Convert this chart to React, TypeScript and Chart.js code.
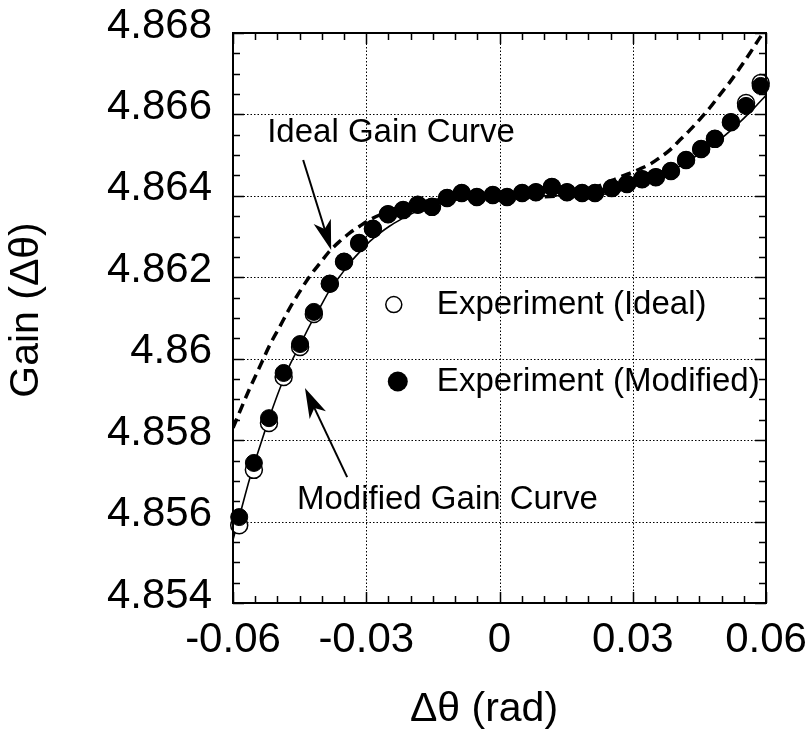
import React, { useEffect, useRef } from "react";
import { Chart, registerables } from "chart.js";

Chart.register(...registerables);

const FONT = "'Liberation Sans', Arial, Helvetica, sans-serif";

// ---- axis ticks ----
const xTickValues = [-0.06, -0.03, 0, 0.03, 0.06];
const xTickLabels = ["-0.06", "-0.03", "0", "0.03", "0.06"];
const yTickValues = [4.854, 4.856, 4.858, 4.86, 4.862, 4.864, 4.866, 4.868];
const yTickLabels = ["4.854", "4.856", "4.858", "4.86", "4.862", "4.864", "4.866", "4.868"];

// ---- experiment points ----
const expTheta = [
  -0.0586, -0.0553, -0.0519, -0.0486, -0.0449, -0.0418, -0.0382, -0.035, -0.0316,
  -0.0285, -0.0251, -0.0217, -0.0184, -0.0152, -0.0118, -0.0085, -0.0051, -0.0015,
  0.0017, 0.0051, 0.0082, 0.0118, 0.0152, 0.0186, 0.0215, 0.0253, 0.0287, 0.0321,
  0.0352, 0.0386, 0.042, 0.0454, 0.0485, 0.0521, 0.0555, 0.0588,
];
const expModifiedGain = [
  4.85611, 4.85744, 4.85854, 4.85965, 4.86036, 4.86115, 4.86184, 4.86238, 4.86284,
  4.86319, 4.86355, 4.86365, 4.86378, 4.86373, 4.86395, 4.86407, 4.86397, 4.86402,
  4.86397, 4.86407, 4.86409, 4.86422, 4.86409, 4.86407, 4.86407, 4.86419, 4.86429, 4.86441,
  4.86446, 4.86461, 4.86488, 4.86515, 4.8654, 4.86581, 4.86621, 4.8667,
];
const expIdealGain = [
  4.85591, 4.85727, 4.85842, 4.85955, 4.86029, 4.8611, 4.86184, 4.86238, 4.86284,
  4.86319, 4.86355, 4.86365, 4.86378, 4.86373, 4.86395, 4.86407, 4.86397, 4.86402,
  4.86397, 4.86407, 4.86409, 4.86422, 4.86409, 4.86407, 4.86407, 4.86419, 4.86429, 4.86441,
  4.86446, 4.86461, 4.86488, 4.86515, 4.8654, 4.86581, 4.86628, 4.86677,
];

// ---- curves ----
const idealCurveTheta = [
  -0.06, -0.0584, -0.0562, -0.0539, -0.0517, -0.0494, -0.0472, -0.0449, -0.0427, -0.0404,
  -0.0382, -0.0359, -0.0337, -0.0314, -0.0292, -0.027, -0.0224, -0.0179, -0.0112, -0.0043,
  0, 0.0091, 0.0159, 0.0226, 0.0271, 0.0316, 0.0339, 0.0361, 0.0384, 0.0406, 0.0429,
  0.0451, 0.0474, 0.0496, 0.0519, 0.0541, 0.0564, 0.0586, 0.06,
];
const idealCurveGain = [
  4.8583, 4.85872, 4.85928, 4.85982, 4.86034, 4.8608, 4.86125, 4.86166, 4.86203, 4.86235,
  4.86265, 4.86289, 4.86309, 4.86326, 4.86341, 4.86353, 4.86373, 4.86385, 4.86392, 4.86396,
  4.864, 4.86398, 4.86403, 4.86425, 4.86446, 4.86466, 4.86478, 4.86494, 4.86513, 4.86537, 4.86562,
  4.86588, 4.86617, 4.86648, 4.8668, 4.86714, 4.86751, 4.86788, 4.8681,
];
const modifiedCurveTheta = [
  -0.06, -0.0584, -0.0562, -0.0539, -0.0517, -0.0494, -0.0472, -0.0449, -0.0427, -0.0404,
  -0.0382, -0.0359, -0.0337, -0.0314, -0.0292, -0.027, -0.0247, -0.0224, -0.0202, -0.0179,
  -0.0156, -0.0134, -0.01, -0.0066, -0.0033, 0, 0.0069, 0.0159, 0.0226, 0.0271, 0.0316,
  0.0361, 0.0406, 0.0451, 0.0496, 0.0541, 0.0575, 0.06,
];
const modifiedCurveGain = [
  4.85555, 4.85619, 4.85707, 4.85786, 4.85859, 4.85928, 4.85985, 4.86034, 4.86082, 4.86126,
  4.86169, 4.86203, 4.86235, 4.86263, 4.86288, 4.86308, 4.86326, 4.86341, 4.86354, 4.86365,
  4.86374, 4.86381, 4.86389, 4.86394, 4.86398, 4.864, 4.864, 4.86401, 4.86403, 4.86412, 4.86427,
  4.86448, 4.86473, 4.86504, 4.86538, 4.86581, 4.86618, 4.86647,
];

// ---- annotation placement (data units) ----
const notes = {
  idealText: { x: -0.0523, y: 4.86554, text: "Ideal Gain Curve" },
  modifiedText: { x: -0.0456, y: 4.85653, text: "Modified Gain Curve" },
  idealArrow: { x1: -0.0442, y1: 4.86488, x2: -0.0379, y2: 4.86267 },
  modifiedArrow: { x1: -0.0343, y1: 4.85709, x2: -0.0438, y2: 4.85928 },
  legendIdeal: { mx: -0.0238, tx: -0.0141, y: 4.86133, text: "Experiment (Ideal)" },
  legendModified: { mx: -0.0229, tx: -0.0141, y: 4.85944, text: "Experiment (Modified)" },
};

const toPoints = (xs: number[], ys: number[]) => xs.map((x, i) => ({ x, y: ys[i] }));

function drawArrow(ctx: CanvasRenderingContext2D, x1: number, y1: number, x2: number, y2: number) {
  const ang = Math.atan2(y2 - y1, x2 - x1);
  const headLen = 30;
  const headW = 9;
  const notch = 22;
  const bx = x2 - Math.cos(ang) * notch;
  const by = y2 - Math.sin(ang) * notch;
  ctx.save();
  ctx.strokeStyle = "#000";
  ctx.fillStyle = "#000";
  ctx.lineWidth = 2;
  ctx.beginPath();
  ctx.moveTo(x1, y1);
  ctx.lineTo(bx, by);
  ctx.stroke();
  const hx = x2 - Math.cos(ang) * headLen;
  const hy = y2 - Math.sin(ang) * headLen;
  const px = -Math.sin(ang) * headW;
  const py = Math.cos(ang) * headW;
  ctx.beginPath();
  ctx.moveTo(x2, y2);
  ctx.lineTo(hx + px, hy + py);
  ctx.lineTo(bx, by);
  ctx.lineTo(hx - px, hy - py);
  ctx.closePath();
  ctx.fill();
  ctx.restore();
}

export default function App() {
  const ref = useRef<HTMLCanvasElement>(null);

  useEffect(() => {
    document.body.style.margin = "0";
    const canvas = ref.current;
    if (!canvas) return;

    const overlay = {
      id: "overlay",
      beforeDatasetsDraw(chart: any) {
        const { ctx, chartArea: a, scales } = chart;
        const xs = scales.x;
        const ys = scales.y;
        ctx.save();
        ctx.strokeStyle = "#000";
        ctx.lineWidth = 1;
        ctx.setLineDash([1.5, 2]);
        xTickValues.forEach((v) => {
          const px = Math.round(xs.getPixelForValue(v)) + 0.5;
          ctx.beginPath();
          ctx.moveTo(px, a.top);
          ctx.lineTo(px, a.bottom);
          ctx.stroke();
        });
        yTickValues.forEach((v) => {
          const py = Math.round(ys.getPixelForValue(v)) + 0.5;
          ctx.beginPath();
          ctx.moveTo(a.left, py);
          ctx.lineTo(a.right, py);
          ctx.stroke();
        });
        ctx.restore();
      },
      afterDraw(chart: any) {
        const { ctx, chartArea: a, scales } = chart;
        const xs = scales.x;
        const ys = scales.y;
        const X = (v: number) => xs.getPixelForValue(v);
        const Y = (v: number) => ys.getPixelForValue(v);
        ctx.save();
        // frame
        ctx.strokeStyle = "#000";
        ctx.lineWidth = 2;
        ctx.setLineDash([]);
        ctx.strokeRect(a.left, a.top, a.right - a.left, a.bottom - a.top);
        // ticks
        ctx.lineWidth = 1.5;
        for (let i = 0; i <= 24; i++) {
          const v = -0.06 + i * 0.005;
          const len = i % 6 === 0 ? 11 : 7;
          const px = Math.round(X(v)) + 0.5;
          ctx.beginPath();
          ctx.moveTo(px, a.bottom);
          ctx.lineTo(px, a.bottom - len);
          ctx.moveTo(px, a.top);
          ctx.lineTo(px, a.top + len);
          ctx.stroke();
        }
        for (let i = 0; i <= 28; i++) {
          const v = 4.854 + i * 0.0005;
          const len = i % 4 === 0 ? 11 : 7;
          const py = Math.round(Y(v)) + 0.5;
          ctx.beginPath();
          ctx.moveTo(a.left, py);
          ctx.lineTo(a.left + len, py);
          ctx.moveTo(a.right, py);
          ctx.lineTo(a.right - len, py);
          ctx.stroke();
        }
        // annotation text
        ctx.fillStyle = "#000";
        ctx.font = `33px ${FONT}`;
        ctx.textBaseline = "middle";
        ctx.textAlign = "left";
        ctx.fillText(notes.idealText.text, X(notes.idealText.x), Y(notes.idealText.y));
        ctx.fillText(notes.modifiedText.text, X(notes.modifiedText.x), Y(notes.modifiedText.y));
        drawArrow(ctx, X(notes.idealArrow.x1), Y(notes.idealArrow.y1), X(notes.idealArrow.x2), Y(notes.idealArrow.y2));
        drawArrow(ctx, X(notes.modifiedArrow.x1), Y(notes.modifiedArrow.y1), X(notes.modifiedArrow.x2), Y(notes.modifiedArrow.y2));
        // legend
        const li = notes.legendIdeal;
        ctx.beginPath();
        ctx.arc(X(li.mx), Y(li.y), 8, 0, Math.PI * 2);
        ctx.fillStyle = "#fff";
        ctx.fill();
        ctx.lineWidth = 1.5;
        ctx.strokeStyle = "#000";
        ctx.stroke();
        ctx.fillStyle = "#000";
        ctx.fillText(li.text, X(li.tx), Y(li.y));
        const lm = notes.legendModified;
        ctx.beginPath();
        ctx.arc(X(lm.mx), Y(lm.y), 10, 0, Math.PI * 2);
        ctx.fill();
        ctx.fillText(lm.text, X(lm.tx), Y(lm.y));
        // axis titles
        ctx.font = `41px ${FONT}`;
        ctx.textAlign = "center";
        ctx.fillText("Δθ (rad)", 484, 710);
        ctx.translate(27, 310);
        ctx.rotate(-Math.PI / 2);
        ctx.fillText("Gain (Δθ)", 0, 0);
        ctx.restore();
      },
    };

    const chart = new Chart(canvas, {
      type: "scatter",
      data: {
        datasets: [
          {
            label: "Experiment (Modified)",
            data: toPoints(expTheta, expModifiedGain),
            pointRadius: 8.5,
            pointBackgroundColor: "#000",
            pointBorderColor: "#000",
            pointBorderWidth: 1,
            showLine: false,
            clip: false,
            order: 1,
          },
          {
            label: "Experiment (Ideal)",
            data: toPoints(expTheta, expIdealGain),
            pointRadius: 8.5,
            pointBackgroundColor: "#fff",
            pointBorderColor: "#000",
            pointBorderWidth: 1.5,
            showLine: false,
            clip: false,
            order: 2,
          },
          {
            label: "Modified Gain Curve",
            type: "line",
            data: toPoints(modifiedCurveTheta, modifiedCurveGain),
            borderColor: "#000",
            borderWidth: 1.6,
            pointRadius: 0,
            fill: false,
            cubicInterpolationMode: "monotone",
            order: 3,
          },
          {
            label: "Ideal Gain Curve",
            type: "line",
            data: toPoints(idealCurveTheta, idealCurveGain),
            borderColor: "#000",
            borderWidth: 3.5,
            borderDash: [10, 6],
            pointRadius: 0,
            fill: false,
            cubicInterpolationMode: "monotone",
            order: 4,
          },
        ],
      } as any,
      options: {
        responsive: false,
        animation: false,
        devicePixelRatio: 1,
        layout: { padding: { top: 33, right: 45, left: 0, bottom: 0 } },
        plugins: { legend: { display: false }, tooltip: { enabled: false } },
        scales: {
          x: {
            type: "linear",
            min: -0.06,
            max: 0.06,
            afterBuildTicks: (s: any) => {
              s.ticks = xTickValues.map((v) => ({ value: v }));
            },
            afterFit: (s: any) => {
              s.height = 141;
            },
            grid: { display: false, drawTicks: true, tickLength: 12 },
            border: { display: false },
            ticks: {
              autoSkip: false,
              maxRotation: 0,
              padding: 0,
              color: "#000",
              font: { family: FONT, size: 42 },
              callback: (_v: any, i: number) => xTickLabels[i],
            },
          },
          y: {
            type: "linear",
            min: 4.854,
            max: 4.868,
            afterBuildTicks: (s: any) => {
              s.ticks = yTickValues.map((v) => ({ value: v }));
            },
            afterFit: (s: any) => {
              s.width = 233;
            },
            grid: { display: false, drawTicks: true, tickLength: 21 },
            border: { display: false },
            ticks: {
              autoSkip: false,
              padding: 0,
              labelOffset: -7,
              color: "#000",
              font: { family: FONT, size: 42 },
              callback: (_v: any, i: number) => yTickLabels[i],
            },
          },
        },
      } as any,
      plugins: [overlay],
    });

    return () => chart.destroy();
  }, []);

  return (
    <div style={{ width: 811, height: 744 }}>
      <canvas ref={ref} width={811} height={744} style={{ display: "block" }} />
    </div>
  );
}
